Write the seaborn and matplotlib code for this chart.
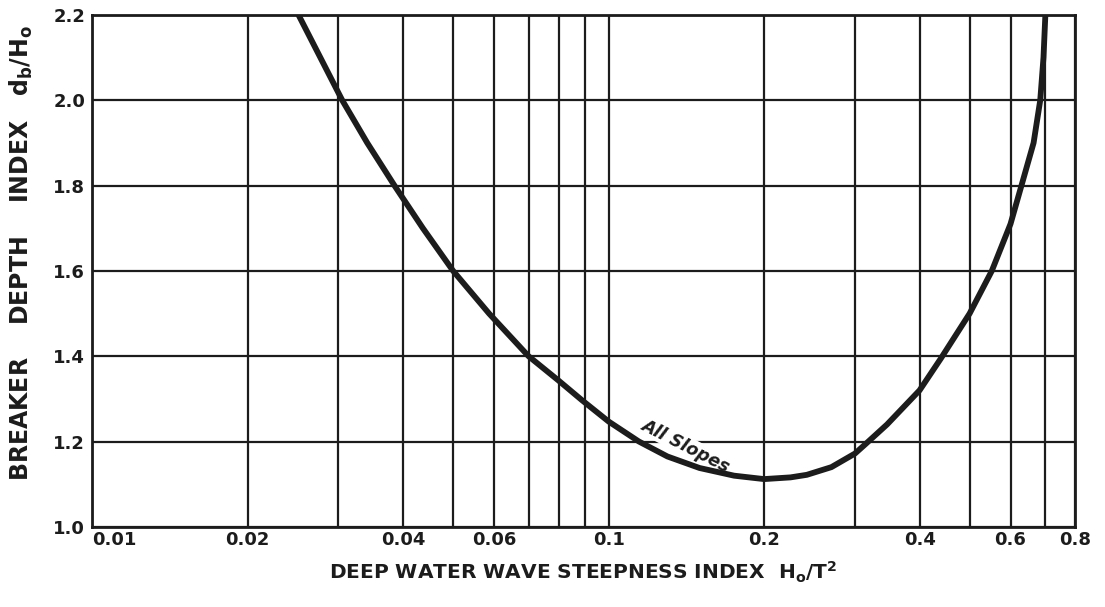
import matplotlib
matplotlib.use("Agg")
import matplotlib.pyplot as plt
import matplotlib.ticker as mticker
import pandas as pd
import seaborn as sns

# ---- data ----
steepness = [0.0251, 0.0305, 0.0341, 0.0385, 0.0437, 0.0500, 0.0587, 0.070,
             0.080, 0.0888, 0.100, 0.1145, 0.130, 0.150, 0.175, 0.200, 0.225,
             0.242, 0.270, 0.300, 0.315, 0.346, 0.400, 0.440, 0.500, 0.552,
             0.600, 0.630, 0.665, 0.685, 0.695, 0.702]
depth_index = [2.20, 2.00, 1.90, 1.80, 1.70, 1.60, 1.50, 1.40,
               1.343, 1.297, 1.247, 1.20, 1.165, 1.138, 1.120, 1.112, 1.116,
               1.122, 1.140, 1.172, 1.195, 1.240, 1.320, 1.395, 1.50, 1.60,
               1.71, 1.80, 1.90, 2.00, 2.10, 2.22]
x_ticks = [0.01, 0.02, 0.04, 0.06, 0.1, 0.2, 0.4, 0.6, 0.8]
x_tick_labels = ["0.01", "0.02", "0.04", "0.06", "0.1", "0.2", "0.4", "0.6", "0.8"]
x_grid = [0.01, 0.02, 0.03, 0.04, 0.05, 0.06, 0.07, 0.08, 0.09,
          0.1, 0.2, 0.3, 0.4, 0.5, 0.6, 0.7, 0.8]
y_ticks = [1.0, 1.2, 1.4, 1.6, 1.8, 2.0, 2.2]
y_tick_labels = ["1.0", "1.2", "1.4", "1.6", "1.8", "2.0", "2.2"]
curve_label = "All Slopes"

df = pd.DataFrame({"steepness": steepness, "depth": depth_index})

sns.set_theme(style="white")
plt.rcParams["font.family"] = ["DejaVu Sans"]

INK = "#1c1c1c"
fig = plt.figure(figsize=(11.05, 6.07), dpi=100)
ax = fig.add_axes([0.0833, 0.132, 0.8896, 0.8435])

ax.set_xscale("log")
ax.set_xlim(0.01, 0.8)
ax.set_ylim(1.0, 2.2)

# log graph-paper grid
ax.xaxis.set_major_locator(mticker.FixedLocator(x_ticks))
ax.xaxis.set_minor_locator(mticker.FixedLocator(x_grid))
ax.xaxis.set_major_formatter(mticker.FixedFormatter(x_tick_labels))
ax.xaxis.set_minor_formatter(mticker.NullFormatter())
ax.set_yticks(y_ticks)
ax.set_yticklabels(y_tick_labels)

ax.grid(which="both", axis="x", color=INK, linewidth=1.6, zorder=1)
ax.grid(which="major", axis="y", color=INK, linewidth=1.6, zorder=1)
ax.set_axisbelow(True)
for s in ax.spines.values():
    s.set_color(INK)
    s.set_linewidth(2.0)

sns.lineplot(data=df, x="steepness", y="depth", ax=ax, color=INK,
             linewidth=4.2, zorder=4, solid_joinstyle="round",
             solid_capstyle="butt")

ax.tick_params(axis="both", which="both", length=0, colors=INK)
for lab in ax.get_xticklabels() + ax.get_yticklabels():
    lab.set_fontsize(13)
    lab.set_fontweight("bold")
ax.tick_params(axis="x", pad=3)
ax.tick_params(axis="y", pad=5)
ax.get_xticklabels()[0].set_horizontalalignment("left")

ax.set_xlabel(r"DEEP WATER WAVE STEEPNESS INDEX  $\mathregular{H_o/T^2}$",
              fontsize=14.5, fontweight="bold", color=INK, labelpad=8)
ax.set_ylabel(r"BREAKER    DEPTH    INDEX   $\mathregular{d_b/H_o}$",
              fontsize=17, fontweight="bold", color=INK)
ax.yaxis.set_label_coords(-0.058, 0.535)

ax.text(0.141, 1.19, curve_label, rotation=-27, fontsize=12.5,
        fontstyle="italic", fontweight="bold", color=INK,
        ha="center", va="center", zorder=3,
        bbox=dict(facecolor="white", edgecolor="none", pad=0.5))

ax.set_facecolor("white")
fig.patch.set_facecolor("white")
fig.savefig("out.png", dpi=100, facecolor="white")
